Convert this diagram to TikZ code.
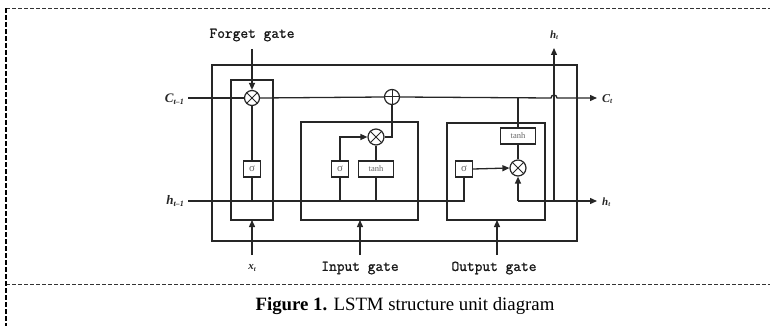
\documentclass[tikz,border=0pt]{standalone}
\usepackage{fontspec}
\setmainfont{Liberation Serif}
\newfontfamily\gatefont[FakeBold=1.2]{Latin Modern Mono}
\usetikzlibrary{arrows.meta,calc}
\newcommand\lbl[3]{{\fontsize{#3}{#3}\selectfont\bfseries\itshape #1\raisebox{-0.3ex}{\fontsize{0.62\dimexpr#3pt\relax}{1}\selectfont #2}}}
\begin{document}
\begin{tikzpicture}[x=1pt,y=-1pt,
  ln/.style={draw=black!85,line width=1.3pt},
  arr/.style={ln,-{Triangle[length=7pt,width=6pt]}},
  gbox/.style={ln,fill=none},
  fbox/.style={draw=black!85,line width=1.1pt,rectangle,minimum height=16pt,inner sep=0pt,text=black!60,font=\fontsize{11}{11}\selectfont},
  mul/.style={draw=black!85,line width=1.2pt,circle,minimum size=16pt,inner sep=0pt},
  gatelbl/.style={font=\gatefont\fontsize{15}{15}\selectfont,text=black!90,inner sep=0pt},
  tag/.style={inner sep=0pt,text=black!85},
  brd/.style={draw=black!80,line width=0.9pt,dash pattern=on 4pt off 2pt}
]
\useasboundingbox (0,0) rectangle (770,326);
% border
\draw[brd] (6,8) -- (770,8);
\draw[brd] (6,284) -- (770,284);
\draw[draw=black,line width=1.6pt,dash pattern=on 5pt off 2pt] (6,8) -- (6,326);
% caption
\node[inner sep=0pt,font=\fontsize{18.8}{18.8}\selectfont] (cap) at (405,306) {\textbf{Figure 1.} LSTM structure unit diagram};
% boxes
\draw[gbox] (212,65) rectangle (577,241);
\draw[gbox] (231,80) rectangle (273,220);
\draw[gbox] (301,122) rectangle (418,220);
\draw[gbox] (447,123) rectangle (545,220);
% function nodes
\node[fbox,minimum width=17pt] (fsig) at (252,169) {σ};
\node[fbox,minimum width=17pt] (isig) at (340,169) {σ};
\node[fbox,minimum width=35pt,font=\fontsize{8.5}{8.5}\selectfont] (itanh) at (376,169) {tanh};
\node[fbox,minimum width=17pt] (osig) at (464,169) {σ};
\node[fbox,minimum width=35pt,font=\fontsize{8.5}{8.5}\selectfont] (otanh) at (518,136) {tanh};
\node[mul,minimum size=15pt] (fmul) at (252,98) {};
\node[mul] (imul) at (376,137) {};
\node[mul,minimum size=15pt] (plus) at (392,97) {};
\node[mul] (omul) at (518,168) {};
\foreach \n in {fmul,imul,omul}{\draw[draw=black!85,line width=1pt] (\n.north west)--(\n.south east) (\n.north east)--(\n.south west);}
\draw[draw=black!85,line width=1pt] (plus.north)--(plus.south) (plus.west)--(plus.east);
% labels
\node[tag,anchor=east] (cin) at (184,99) {\lbl{C}{t–1}{13}};
\node[tag,anchor=east] (hin) at (184,201) {\lbl{h}{t–1}{13}};
\node[tag,anchor=west] (cout) at (602,99) {\lbl{C}{t}{12}};
\node[tag,anchor=west] (hout) at (602,202) {\lbl{h}{t}{11}};
\node[tag] (htop) at (554,35) {\lbl{h}{t}{11}};
\node[tag] (xin) at (252,268) {\lbl{x}{t}{11}};
\node[gatelbl] (fg) at (252,35) {Forget gate};
\node[gatelbl] (ig) at (360,268) {Input gate};
\node[gatelbl] (og) at (494,268) {Output gate};
% coordinates
\coordinate (cstart) at (188,98);
\coordinate (hstart) at (188,201);
\coordinate (cend) at (597,98);
\coordinate (hend) at (597,201);
\coordinate (fgtop) at (252,49);
\coordinate (xbot) at (252,255);
\coordinate (fbot) at (252,220);
\coordinate (igbot) at (360,255);
\coordinate (igtop) at (360,220);
\coordinate (ogbot) at (497,255);
\coordinate (ogtop) at (497,220);
\coordinate (htap) at (554,201);
\coordinate (httop) at (554,48);
\coordinate (otap) at (518,98);
\coordinate (ohj) at (518,201);
% cell state line
\draw[ln] (cstart) -- (fmul.west);
\draw[ln] (fmul.east) -- (plus.west);
\draw[arr] (plus.east) -- (551,98) arc[start angle=180,end angle=0,radius=3pt] -- (cend);
% forget gate
\draw[arr] (fgtop) -- (fmul.north);
\draw[ln] (fsig.north) -- (fmul.south);
\draw[ln] (fsig.south) -- (fsig.south |- hstart);
\draw[arr] (xbot) -- (fbot);
% h_{t-1} line
\draw[ln] (hstart) -- (osig.south |- hstart) -- (osig.south);
% input gate
\draw[ln] (isig.south) -- (isig.south |- hstart);
\draw[ln] (itanh.south) -- (itanh.south |- hstart);
\draw[arr] (isig.north) |- (imul.west);
\draw[ln] (itanh.north) -- (imul.south);
\draw[ln] (imul.east) -| (plus.south);
\draw[arr] (igbot) -- (igtop);
% output gate
\draw[ln] (otap) -- (otanh.north);
\draw[ln] (otanh.south) -- (omul.north);
\draw[arr] (osig.east) -- (omul.west);
\draw[arr] (ohj) -- (omul.south);
\draw[arr] (ohj) -- (hend);
\draw[arr] (htap) -- (httop);
\draw[arr] (ogbot) -- (ogtop);
\end{tikzpicture}
\end{document}
